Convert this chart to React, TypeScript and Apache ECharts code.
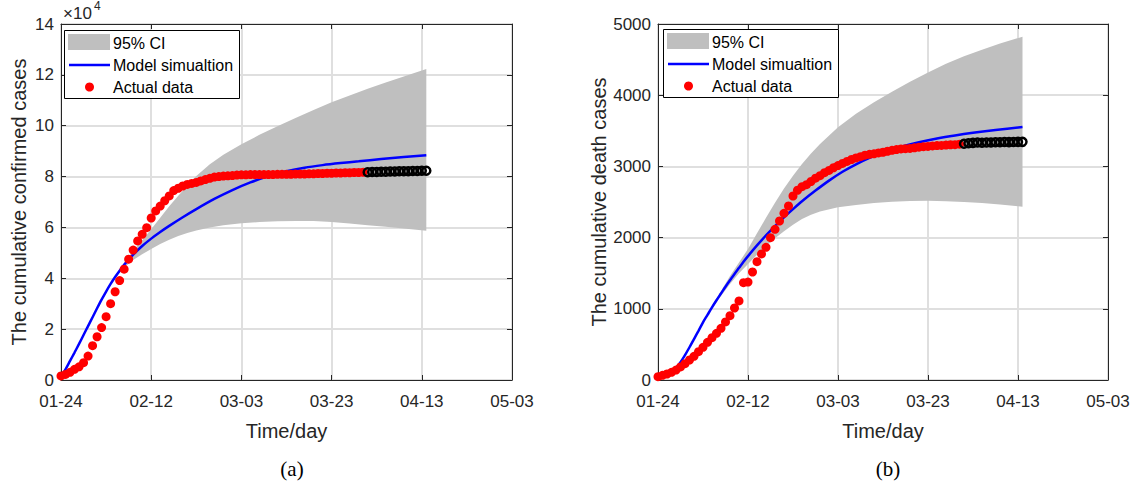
import React, { useEffect, useRef } from 'react';
import * as echarts from 'echarts';

// ---------- data ----------
const tickLabels = ['01-24', '02-12', '03-03', '03-23', '04-13', '05-03'];

// (a) cumulative confirmed cases, x10^4, one value per day from 01-24
const confirmedActual = [
  0.16, 0.22, 0.30, 0.42, 0.52, 0.68, 0.94, 1.35, 1.70, 2.06,
  2.49, 3.00, 3.47, 3.91, 4.36, 4.75, 5.11, 5.47, 5.73, 5.99,
  6.37, 6.65, 6.84, 7.05, 7.24, 7.45, 7.54, 7.63, 7.69, 7.73,
  7.77, 7.83, 7.88, 7.93, 7.98, 8.00, 8.02, 8.03, 8.04, 8.06,
  8.07, 8.07, 8.08, 8.08, 8.08, 8.08, 8.08, 8.08, 8.09, 8.09,
  8.09, 8.09, 8.10, 8.10, 8.10, 8.11, 8.11, 8.12, 8.12, 8.13,
  8.13, 8.14, 8.14, 8.15, 8.15, 8.16, 8.16, 8.17,
];
const confirmedFuture = [8.17, 8.18, 8.18, 8.19, 8.19, 8.20, 8.20, 8.21, 8.21, 8.21, 8.22, 8.22, 8.23, 8.23];
const confirmedModel: [number, number][] = [
  [0, 0.13], [1, 0.42], [2, 0.75], [3, 1.08], [4, 1.42], [5, 1.77], [6, 2.12], [7, 2.47],
  [8, 2.82], [9, 3.16], [10, 3.48], [11, 3.78], [12, 4.05], [13, 4.3], [14, 4.53], [16, 4.93],
  [18, 5.27], [20, 5.56], [22, 5.82], [24, 6.06], [27, 6.4], [30, 6.72], [34, 7.12], [38, 7.47],
  [42, 7.77], [46, 8.02], [50, 8.21], [54, 8.35], [58, 8.45], [62, 8.53], [66, 8.6], [71, 8.69],
  [76, 8.77], [81, 8.84],
];
const confirmedBandDays = [10, 12, 14, 16, 18, 20, 22, 24, 26, 28, 30, 33, 36, 40, 44, 48, 52, 56, 60, 64, 68, 72, 76, 81];
const confirmedLower = [3.46, 4.0, 4.42, 4.72, 4.95, 5.15, 5.35, 5.52, 5.66, 5.78, 5.88, 6.0, 6.09, 6.16, 6.21, 6.24, 6.25, 6.25, 6.21, 6.15, 6.09, 6.03, 5.96, 5.87];
const confirmedUpper = [3.5, 4.1, 4.62, 5.08, 5.5, 5.93, 6.38, 6.83, 7.25, 7.64, 8.02, 8.48, 8.86, 9.27, 9.64, 9.98, 10.3, 10.62, 10.92, 11.19, 11.45, 11.7, 11.94, 12.23];

// (b) cumulative death cases
const deathActual = [
  47, 66, 84, 108, 140, 183, 229, 281, 332, 398,
  459, 529, 595, 655, 726, 815, 904, 1011, 1110, 1367,
  1376, 1517, 1662, 1770, 1863, 1999, 2116, 2233, 2341, 2444,
  2584, 2665, 2715, 2744, 2788, 2835, 2870, 2912, 2943, 2981,
  3012, 3042, 3070, 3097, 3119, 3136, 3158, 3169, 3176, 3189,
  3199, 3213, 3226, 3237, 3245, 3249, 3253, 3261, 3270, 3277,
  3281, 3287, 3292, 3295, 3300, 3304, 3305, 3312,
];
const deathFuture = [3318, 3326, 3331, 3335, 3333, 3335, 3336, 3339, 3340, 3342, 3341, 3342, 3344, 3345];
const deathModel: [number, number][] = [
  [0, 45], [1, 62], [2, 88], [3, 125], [4, 170], [5, 250], [6, 350], [7, 460], [8, 575],
  [9, 690], [10, 810], [11, 915], [12, 1020], [13, 1120], [14, 1215], [15, 1310], [16, 1400],
  [17, 1490], [18, 1575], [19, 1660], [20, 1740], [22, 1890], [24, 2030], [26, 2160], [28, 2285],
  [30, 2400], [32, 2510], [35, 2660], [38, 2800], [41, 2925], [44, 3030], [47, 3120], [50, 3195],
  [54, 3275], [58, 3340], [62, 3392], [66, 3435], [70, 3472], [75, 3512], [81, 3552],
];
const deathBandDays = [12, 14, 16, 18, 20, 22, 24, 26, 28, 30, 32, 34, 36, 40, 44, 48, 52, 56, 60, 64, 68, 72, 76, 81];
const deathLower = [1000, 1180, 1350, 1500, 1630, 1760, 1880, 1990, 2090, 2180, 2260, 2320, 2365, 2425, 2458, 2485, 2505, 2515, 2518, 2512, 2500, 2485, 2465, 2434];
const deathUpper = [1040, 1250, 1460, 1650, 1840, 2060, 2280, 2490, 2690, 2870, 3034, 3180, 3315, 3550, 3740, 3900, 4050, 4190, 4320, 4440, 4548, 4640, 4725, 4822];

const legendNames = ['95% CI', 'Model simualtion', 'Actual data'];

// ---------- styling ----------
const FONT = '"Liberation Sans", Arial, Helvetica, sans-serif';
const SERIF = '"Liberation Serif", "DejaVu Serif", serif';
const AX = '#262626';
const GRID = '#dfdfdf';
const BAND = '#bfbfbf';

function xAxes(gridIndex: number) {
  const common = {
    type: 'value', gridIndex, min: 0, max: 100, interval: 20,
    axisLine: { show: true, onZero: false, lineStyle: { color: AX, width: 1 } },
    axisTick: { show: true, inside: true, length: 5, lineStyle: { color: AX } },
  };
  return [
    {
      ...common, position: 'bottom',
      axisLabel: {
        fontSize: 17, fontFamily: FONT, color: AX, margin: 13, showMinLabel: true, showMaxLabel: true,
        formatter: (v: number) => tickLabels[Math.round(v / 20)] ?? '',
      },
      splitLine: { show: true, lineStyle: { color: GRID, width: 2 } },
      name: 'Time/day', nameLocation: 'middle', nameGap: 41,
      nameTextStyle: { fontSize: 20, fontFamily: FONT, color: AX },
    },
    { ...common, position: 'top', axisLabel: { show: false }, splitLine: { show: false } },
  ];
}

function yAxes(gridIndex: number, max: number, interval: number, name: string, nameGap: number) {
  const common = {
    type: 'value', gridIndex, min: 0, max, interval,
    axisLine: { show: true, onZero: false, lineStyle: { color: AX, width: 1 } },
    axisTick: { show: true, inside: true, length: 5, lineStyle: { color: AX } },
  };
  return [
    {
      ...common, position: 'left',
      axisLabel: {
        fontSize: 17, fontFamily: FONT, color: AX, margin: 7, showMinLabel: true, showMaxLabel: true,
        formatter: (v: number) => String(v),
      },
      splitLine: { show: true, lineStyle: { color: GRID, width: 2 } },
      name, nameLocation: 'middle', nameGap,
      nameTextStyle: { fontSize: 20, fontFamily: FONT, color: AX },
    },
    { ...common, position: 'right', axisLabel: { show: false }, splitLine: { show: false } },
  ];
}

function bandSeries(xi: number, yi: number, days: number[], lower: number[], upper: number[]) {
  return {
    type: 'custom', name: legendNames[0], xAxisIndex: xi, yAxisIndex: yi, silent: true, z: 1,
    data: days.map((d, i) => [d, lower[i], upper[i]]),
    encode: { x: 0, y: [1, 2] },
    renderItem: (params: any, api: any) => {
      if (params.dataIndex !== 0) return null;
      const top = days.map((d, i) => api.coord([d, upper[i]]));
      const bottom = days.map((d, i) => api.coord([d, lower[i]])).reverse();
      return {
        type: 'polygon',
        shape: { points: [...top, ...bottom] },
        style: { fill: BAND, stroke: 'none' },
      };
    },
  };
}

function panelSeries(
  xi: number, yi: number,
  bandDays: number[], lower: number[], upper: number[],
  model: [number, number][], actual: number[], future: number[],
) {
  return [
    bandSeries(xi, yi, bandDays, lower, upper),
    {
      type: 'line', name: legendNames[1], xAxisIndex: xi, yAxisIndex: yi, z: 2,
      data: model, symbol: 'none', smooth: 0.3,
      lineStyle: { color: '#0000ff', width: 2.5 },
    },
    {
      type: 'scatter', name: legendNames[2], xAxisIndex: xi, yAxisIndex: yi, z: 3,
      data: actual.map((v, i) => [i, v]), symbolSize: 9,
      itemStyle: { color: '#ff0000', opacity: 1 },
    },
    {
      type: 'scatter', xAxisIndex: xi, yAxisIndex: yi, z: 4,
      data: future.map((v, i) => [actual.length + i, v]), symbolSize: 8,
      itemStyle: { color: 'rgba(0,0,0,0)', borderColor: '#000000', borderWidth: 2.5, opacity: 1 },
    },
  ];
}

function legendGraphic(x0: number, y0: number) {
  const txt = (y: number, text: string) => ({
    type: 'text', x: x0 + 49, y, z: 101,
    style: { text, fontSize: 16, fontFamily: FONT, fill: '#000', align: 'left', verticalAlign: 'middle' },
  });
  return [
    {
      type: 'rect', z: 100, shape: { x: x0 + 0.5, y: y0 + 0.5, width: 175, height: 68 },
      style: { fill: '#ffffff', stroke: '#000000', lineWidth: 1 },
    },
    { type: 'rect', z: 101, shape: { x: x0 + 4, y: y0 + 4, width: 42, height: 16 }, style: { fill: BAND } },
    { type: 'line', z: 101, shape: { x1: x0 + 5, y1: y0 + 35, x2: x0 + 46, y2: y0 + 35 }, style: { stroke: '#0000ff', lineWidth: 2.5 } },
    { type: 'circle', z: 101, shape: { cx: x0 + 25.5, cy: y0 + 57, r: 4.5 }, style: { fill: '#ff0000' } },
    txt(y0 + 13, legendNames[0]),
    txt(y0 + 35, legendNames[1]),
    txt(y0 + 57, legendNames[2]),
  ];
}

const option: any = {
  animation: false,
  backgroundColor: '#ffffff',
  grid: [
    { left: 61, top: 24, width: 451, height: 356 },
    { left: 658, top: 24, width: 450, height: 356 },
  ],
  xAxis: [...xAxes(0), ...xAxes(1)],
  yAxis: [
    ...yAxes(0, 14, 2, 'The cumulative confirmed cases', 32),
    ...yAxes(1, 5000, 1000, 'The cumulative death cases', 49),
  ],
  series: [
    ...panelSeries(0, 0, confirmedBandDays, confirmedLower, confirmedUpper, confirmedModel, confirmedActual, confirmedFuture),
    ...panelSeries(2, 2, deathBandDays, deathLower, deathUpper, deathModel, deathActual, deathFuture),
  ],
  graphic: [
    ...legendGraphic(64, 30),
    ...legendGraphic(663, 29),
    { type: 'text', x: 63, y: 13, style: { text: '×10', fontSize: 17, fontFamily: FONT, fill: AX, align: 'left', verticalAlign: 'middle' } },
    { type: 'text', x: 94, y: 6, style: { text: '4', fontSize: 12, fontFamily: FONT, fill: AX, align: 'left', verticalAlign: 'middle' } },
    { type: 'text', x: 292, y: 469, style: { text: '(a)', fontSize: 21, fontFamily: SERIF, fill: '#000', align: 'center', verticalAlign: 'middle' } },
    { type: 'text', x: 888, y: 469, style: { text: '(b)', fontSize: 21, fontFamily: SERIF, fill: '#000', align: 'center', verticalAlign: 'middle' } },
  ],
};

export default function App() {
  const ref = useRef<HTMLDivElement>(null);
  useEffect(() => {
    if (!ref.current) return;
    const chart = echarts.init(ref.current, undefined, { renderer: 'svg' });
    chart.setOption(option);
    return () => chart.dispose();
  }, []);
  return (
    <div
      ref={ref}
      style={{ position: 'absolute', left: 0, top: 0, width: 1142, height: 488, background: '#ffffff' }}
    />
  );
}
